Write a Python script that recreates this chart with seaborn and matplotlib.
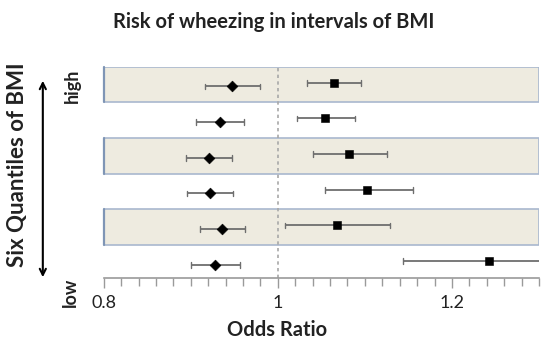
import numpy as np
import pandas as pd
import matplotlib
matplotlib.use("Agg")
import matplotlib.pyplot as plt
from matplotlib.ticker import MultipleLocator
import seaborn as sns

# rows from low BMI (0) to high BMI (5)
rows = [0, 1, 2, 3, 4, 5]

diamond_or = [0.928, 0.936, 0.922, 0.921, 0.934, 0.947]
diamond_lo = [0.900, 0.911, 0.896, 0.895, 0.906, 0.916]
diamond_hi = [0.956, 0.962, 0.948, 0.947, 0.961, 0.979]

square_or = [1.242, 1.068, 1.103, 1.082, 1.054, 1.065]
square_lo = [1.144, 1.008, 1.054, 1.040, 1.022, 1.034]
square_hi = [1.360, 1.129, 1.155, 1.125, 1.089, 1.096]

shaded_rows = [1, 3, 5]

sns.set_theme(style="white")
plt.rcParams['font.family'] = ['Lato', 'DejaVu Sans']

df = pd.DataFrame({
    'row': rows * 2,
    'OR': diamond_or + square_or,
    'lo': diamond_lo + square_lo,
    'hi': diamond_hi + square_hi,
    'series': ['diamond'] * 6 + ['square'] * 6,
})
# small vertical offset between the two series in a row
df['y'] = df['row'] + np.where(df['series'] == 'diamond', -0.05, 0.05)

fig = plt.figure(figsize=(5.42, 3.44), dpi=100)
ax = fig.add_axes([0.1913, 0.191, 0.8032, 0.615])

for r in shaded_rows:
    ax.axhspan(r - 0.5, r + 0.5, facecolor='#EEEBE0', edgecolor='#A9B8CE', lw=1.2, zorder=0)
    ax.plot([0.8, 0.8], [r - 0.5, r + 0.5], color='#7F95B5', lw=1.6, zorder=0.5, clip_on=False)

ax.axvline(1.0, color='#A8A8A8', ls=(0, (2, 2)), lw=1.2, zorder=1)

ax.hlines(df['y'], df['lo'], df['hi'], color='#6E6E6E', lw=1.3, zorder=2)
for _, d in df.iterrows():
    for xv in (d['lo'], d['hi']):
        ax.plot([xv, xv], [d['y'] - 0.08, d['y'] + 0.08], color='#6E6E6E', lw=1.0, zorder=2)

sns.scatterplot(data=df[df['series'] == 'diamond'], x='OR', y='y', marker='D',
                s=30, color='black', edgecolor='black', legend=False, ax=ax, zorder=3)
sns.scatterplot(data=df[df['series'] == 'square'], x='OR', y='y', marker='s',
                s=26, color='black', edgecolor='black', legend=False, ax=ax, zorder=3)

ax.set_xlim(0.8, 1.3)
ax.set_ylim(-0.43, 5.5)
ax.xaxis.set_minor_locator(MultipleLocator(0.02))
ax.set_xticks([0.8, 1.0, 1.2])
ax.set_xticklabels(['0.8', '1', '1.2'], fontsize=13, color='#222222')
ax.tick_params(axis='x', which='both', direction='out', bottom=True, color='#9A9A9A', width=1, pad=5)
ax.tick_params(axis='x', which='major', length=7)
ax.tick_params(axis='x', which='minor', length=6)
ax.set_yticks([])
ax.set_xlabel('')
ax.set_ylabel('')
for s in ['top', 'right', 'left']:
    ax.spines[s].set_visible(False)
ax.spines['bottom'].set_color('#9A9A9A')
ax.spines['bottom'].set_linewidth(1.2)

fig.text(0.505, 0.935, 'Risk of wheezing in intervals of BMI', ha='center', va='center',
         fontsize=14.5, fontweight='bold', color='#222222')
fig.text(0.512, 0.04, 'Odds Ratio', ha='center', va='center', fontsize=14.5, fontweight='bold', color='#222222')
fig.text(0.033, 0.52, 'Six Quantiles of BMI', ha='center', va='center', rotation=90,
         fontsize=16, fontweight='bold', color='#222222')
fig.text(0.133, 0.75, 'high', ha='center', va='center', rotation=90, fontsize=13,
         fontweight='bold', color='#222222')
fig.text(0.130, 0.15, 'low', ha='center', va='center', rotation=90, fontsize=13,
         fontweight='bold', color='#222222')
fig.add_artist(matplotlib.patches.FancyArrowPatch((0.079, 1 - 78 / 344), (0.079, 1 - 280 / 344),
                                                  transform=fig.transFigure, arrowstyle='<->',
                                                  mutation_scale=11, lw=1.5, color='black'))

fig.savefig('out.png', dpi=100)
